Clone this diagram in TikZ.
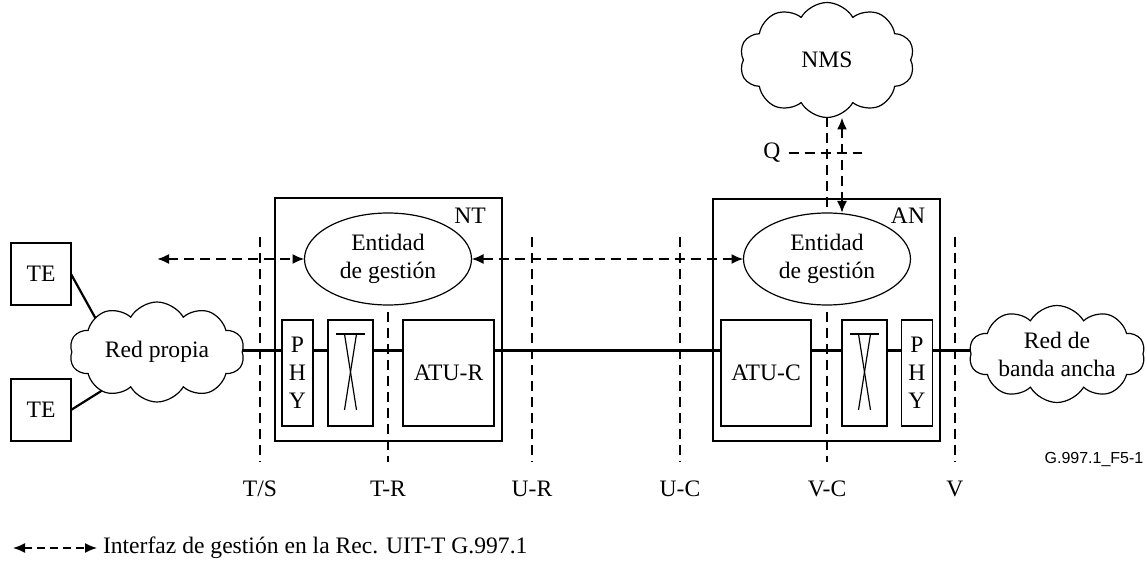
\documentclass[tikz,border=0pt]{standalone}
\usepackage{fontspec}
\setmainfont{Liberation Serif}
\newfontfamily\figsans{Liberation Sans}
\usetikzlibrary{shapes.geometric,shapes.symbols,arrows.meta}

\begin{document}
\begin{tikzpicture}[x=0.5pt,y=-0.5pt,font=\fontsize{11.8}{14}\selectfont]
\tikzset{ >={Latex[length=6pt,width=5pt]}, inner sep=0pt, outer sep=0pt,
  box/.style={draw, line width=0.6pt, align=center},
  nube/.style={draw, cloud, cloud puffs=10, cloud puff arc=120, cloud ignores aspect, align=center, line width=0.6pt},
  gestion/.style={draw, ellipse, align=center, line width=0.6pt, minimum width=83.5pt, minimum height=46pt},
  mgmt/.style={line width=1pt, dash pattern=on 5pt off 3pt},
  linea/.style={line width=1.5pt},
}

\useasboundingbox (0,0) rectangle (1147,561);

%\draw [lightgray, dashed](0,0) grid[step=50] (1147,561);

\node [box, minimum width=30pt, minimum height=31pt] (te1) at (41,274) {TE};
\node [box, minimum width=30pt, minimum height=31pt] (te2) at (41,410) {TE};
\node [nube, minimum width=87.5pt, minimum height=50pt] (redp) at (157,352) {Red propia};

\node [box, minimum width=113.5pt, minimum height=121.5pt] (nt) at (388.5,319.5) {};
\node (ntlab) at (470,216) {NT};
\node [gestion] (ntent) at (388,259) {Entidad\\de gestión};
\node [box, minimum width=15.5pt, minimum height=53pt] (phyr) at (297.5,373) {P\\H\\Y};
\node [box, minimum width=22.5pt, minimum height=53pt] (swr) at (350.5,373) {};
\node [box, minimum width=45.5pt, minimum height=53pt] (atur) at (448.5,373) {ATU-R};

\node [box, minimum width=113.5pt, minimum height=121pt] (an) at (826.5,320) {};
\node (anlab) at (908,216) {AN};
\node [gestion] (anent) at (827,259) {Entidad\\de gestión};
\node [box, minimum width=45pt, minimum height=53pt] (atuc) at (766,373) {ATU-C};
\node [box, minimum width=22.5pt, minimum height=53pt] (swc) at (864.5,373) {};
\node [box, minimum width=15.5pt, minimum height=53pt] (phyc) at (917,373) {P\\H\\Y};

\node [nube, minimum width=87.5pt, minimum height=57.5pt] (nms) at (827,60) {NMS};
\node [nube, minimum width=88pt, minimum height=48.5pt] (banda) at (1057,354) {Red de\\banda ancha};

% switch symbols
\draw [line width=0.6pt] ([shift={(-14.5,-39)}]swr.center) -- ([shift={(14.5,-39)}]swr.center);
\draw [line width=0.6pt] ([shift={(-6,-39)}]swr.center) -- ([shift={(6,37)}]swr.center);
\draw [line width=0.6pt] ([shift={(6,-39)}]swr.center) -- ([shift={(-6,37)}]swr.center);
\draw [line width=0.6pt] ([shift={(-14.5,-39)}]swc.center) -- ([shift={(14.5,-39)}]swc.center);
\draw [line width=0.6pt] ([shift={(-6,-39)}]swc.center) -- ([shift={(6,37)}]swc.center);
\draw [line width=0.6pt] ([shift={(6,-39)}]swc.center) -- ([shift={(-6,37)}]swc.center);

% main line
\coordinate (lvl) at (0,351);
\draw [line width=1.1pt] (te1.east) -- (redp.151);
\draw [line width=1.1pt] (te2.east) -- (redp.215);
\draw [linea] (redp.east |- lvl) -- (phyr.west |- lvl);
\draw [linea] (phyr.east |- lvl) -- (swr.west |- lvl);
\draw [linea] (swr.east |- lvl) -- (atur.west |- lvl);
\draw [linea] (atur.east |- lvl) -- (atuc.west |- lvl);
\draw [linea] (atuc.east |- lvl) -- (swc.west |- lvl);
\draw [linea] (swc.east |- lvl) -- (phyc.west |- lvl);
\draw [linea] (phyc.east |- lvl) -- (banda.west |- lvl);

% reference points
\coordinate (tstop) at (260,237);
\coordinate (tsbot) at (260,462);
\coordinate (trtop) at (388,312);
\coordinate (trbot) at (388,462);
\coordinate (urtop) at (532,237);
\coordinate (urbot) at (532,462);
\coordinate (uctop) at (680,237);
\coordinate (ucbot) at (680,462);
\coordinate (vctop) at (827,312);
\coordinate (vcbot) at (827,462);
\coordinate (vtop) at (955,237);
\coordinate (vbot) at (955,462);
\draw [mgmt] (tstop) -- (tsbot);
\draw [mgmt] (trtop) -- (trbot);
\draw [mgmt] (urtop) -- (urbot);
\draw [mgmt] (uctop) -- (ucbot);
\draw [mgmt] (vctop) -- (vcbot);
\draw [mgmt] (vtop) -- (vbot);
\node (ts) at (260,489) {T/S};
\node (tr) at (388,489) {T-R};
\node (ur) at (532,489) {U-R};
\node (uc) at (680,489) {U-C};
\node (vc) at (827,489) {V-C};
\node (v) at (955,489) {V};

% management
\coordinate (lfree) at (157,259);
\draw [mgmt,<->] (lfree) -- (ntent.west);
\draw [mgmt,<->] (ntent.east) -- (anent.west);
\draw [mgmt] (nms.south) -- (anent.north);
\draw [mgmt,<->] ([xshift=7.5pt]nms.south) -- ([xshift=7.5pt]anent.north);
\node (q) at (772,153) {Q};
\coordinate (qend) at (862,153);
\draw [mgmt, shorten <=4pt] (q.east) -- (qend);

\node [font=\figsans\fontsize{8}{10}\selectfont] (fig) at (1094,460) {G.997.1\_F5-1};

% legend
\coordinate (lega) at (13,548);
\coordinate (legb) at (97,548);
\draw [mgmt,<->, line width=0.8pt, dash pattern=on 4pt off 2.5pt] (lega) -- (legb);
\node [anchor=west] (legt) at (103,548) {Interfaz de gestión en la Rec. UIT-T G.997.1};

\end{tikzpicture}
\end{document}
